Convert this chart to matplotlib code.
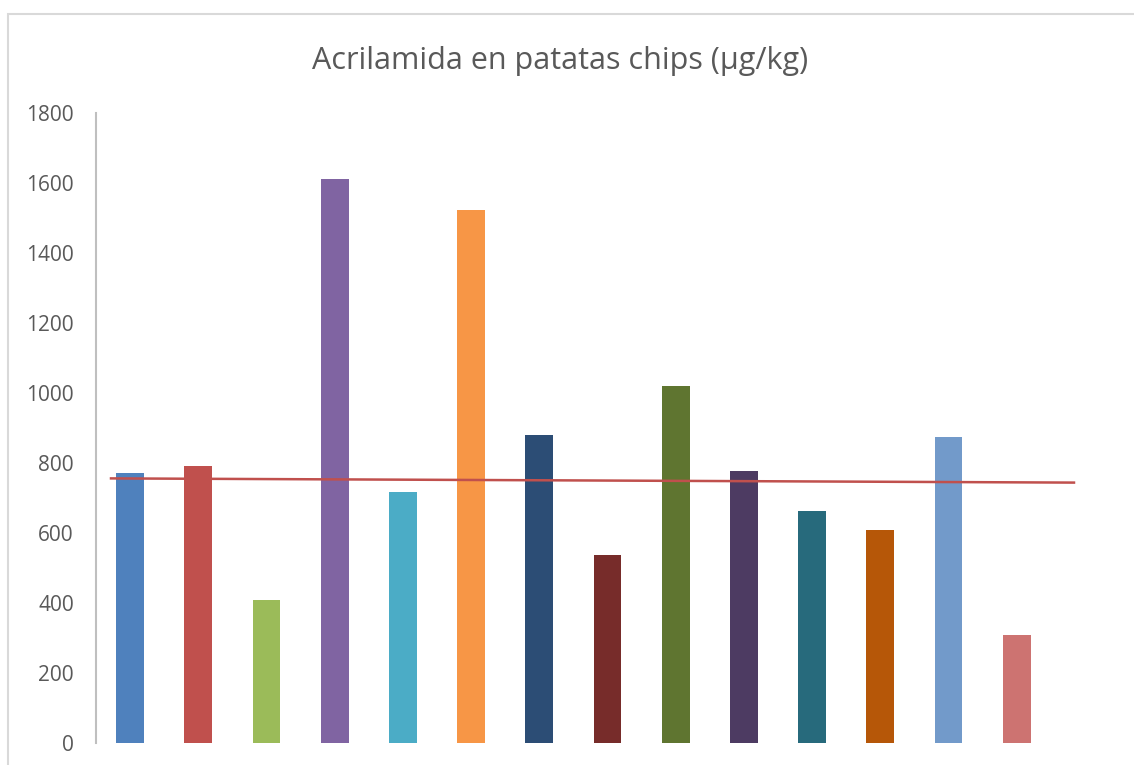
import matplotlib.pyplot as plt
from matplotlib.patches import Rectangle

# Data
values = [771, 791, 409, 1611, 717, 1523, 880, 537, 1020, 777, 663, 609, 874, 309]
colors = ["#4F81BD", "#C0504D", "#9BBB59", "#8064A2", "#4BACC6", "#F79646", "#2C4D75",
          "#772C2A", "#5F7530", "#4D3B62", "#276A7C", "#B65708", "#729ACA", "#CD7371"]
yticks = [0, 200, 400, 600, 800, 1000, 1200, 1400, 1600, 1800]
trend_x = [-0.28, 13.84]
trend_y = [756, 744]

plt.rcParams["font.family"] = ["Open Sans", "DejaVu Sans"]

fig = plt.figure(figsize=(11.34, 7.65), dpi=100)

# light gray chart border (only top/left visible)
fig.patches.append(Rectangle((8 / 1134, -0.1), 1.2, 1 - 13.5 / 765 + 0.1,
                             transform=fig.transFigure, fill=False,
                             edgecolor="#D9D9D9", linewidth=1.5))

ax = fig.add_axes([96 / 1134, 22 / 765, 984 / 1134, 630 / 765])
x = list(range(len(values)))
ax.bar(x, values, width=0.41, color=colors, zorder=2)
ax.plot(trend_x, trend_y, color="#C0504D", linewidth=1.8, zorder=3)

ax.set_xlim(-0.5, -0.5 + 984 / 68.2)
ax.set_ylim(0, 1800)
ax.set_yticks(yticks)
ax.set_xticks([])
ax.tick_params(axis="y", length=0, pad=16, labelsize=15, labelcolor="#595959")
for s in ["top", "right", "bottom"]:
    ax.spines[s].set_visible(False)
ax.spines["left"].set_color("#BFBFBF")
ax.spines["left"].set_linewidth(1.5)

fig.text(560 / 1134, 1 - 61 / 765, "Acrilamida en patatas chips (µg/kg)",
         ha="center", va="center", fontsize=22, color="#595959")

fig.savefig("out.png", dpi=100)
